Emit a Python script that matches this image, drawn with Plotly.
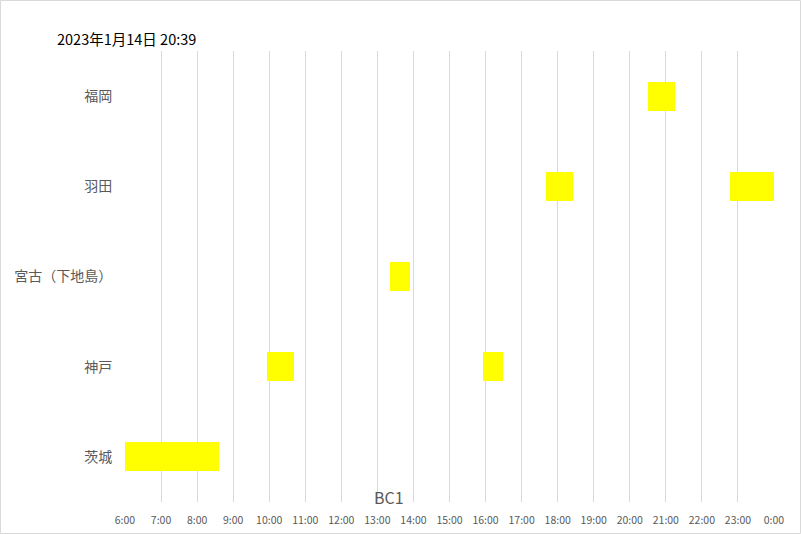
import plotly.graph_objects as go

# --- data ---
categories = ["茨城", "神戸", "宮古（下地島）", "羽田", "福岡"]
bar_cat = ["茨城", "神戸", "神戸", "宮古（下地島）", "羽田", "羽田", "福岡"]
bar_start = ["6:00", "9:56", "15:55", "13:21", "17:40", "22:46", "20:31"]
bar_end = ["8:36", "10:41", "16:29", "13:55", "18:25", "24:00", "21:16"]
tick_hours = list(range(6, 25))
tick_labels = [f"{h % 24}:00" for h in tick_hours]
chart_title = "2023年1月14日 20:39"
axis_title = "BC1"


def to_h(s):
    h, m = s.split(":")
    return int(h) + int(m) / 60.0


starts = [to_h(s) for s in bar_start]
durs = [to_h(e) - to_h(s) for s, e in zip(bar_start, bar_end)]

FONT = "Noto Sans CJK JP, Noto Sans, sans-serif"

fig = go.Figure()
fig.add_trace(go.Bar(
    y=bar_cat, x=durs, base=starts, orientation="h",
    width=0.32, marker=dict(color="#FFFF00", line=dict(width=0)),
    hoverinfo="skip", showlegend=False,
))

L, R, T, B = 125, 27, 51, 32
W, H = 801, 534
pw, ph = W - L - R, H - T - B

fig.update_layout(
    template="none",
    width=W, height=H,
    margin=dict(l=L, r=R, t=T, b=B, pad=0, autoexpand=False),
    paper_bgcolor="white", plot_bgcolor="white",
    font=dict(family=FONT, color="#595959"),
    bargap=0,
    xaxis=dict(
        range=[6, 24], tickvals=tick_hours, ticktext=tick_labels,
        showgrid=True, gridcolor="#d9d9d9", gridwidth=1,
        zeroline=False, showline=False, automargin=False,
        ticks="outside", ticklen=8, tickcolor="rgba(0,0,0,0)",
        tickfont=dict(size=10.5, color="#595959"),
        fixedrange=True,
    ),
    yaxis=dict(
        categoryorder="array", categoryarray=categories,
        range=[-0.5, 4.5], showgrid=False, zeroline=False, showline=False,
        automargin=False,
        ticks="outside", ticklen=9, tickcolor="rgba(0,0,0,0)",
        tickfont=dict(size=14, color="#595959"),
        fixedrange=True,
    ),
    annotations=[
        dict(text=chart_title, xref="paper", yref="paper",
             x=(55 - L) / pw, y=(H - B - 38) / ph, xanchor="left", yanchor="middle",
             showarrow=False, font=dict(size=14.5, color="#000000", family=FONT)),
        dict(text=axis_title, xref="paper", yref="paper",
             x=(389 - L) / pw, y=(H - B - 497) / ph, xanchor="center", yanchor="middle",
             showarrow=False, font=dict(size=16, color="#595959", family=FONT)),
    ],
    shapes=[
        dict(type="rect", xref="paper", yref="paper",
             x0=(0.5 - L) / pw, x1=(W - 0.5 - L) / pw,
             y0=(H - B - (H - 0.5)) / ph, y1=(H - B - 0.5) / ph,
             line=dict(color="#d9d9d9", width=1), fillcolor="rgba(0,0,0,0)", layer="below"),
    ],
)

fig.write_html(
    "out.html",
    config={"displayModeBar": False},
    post_script="document.body.style.margin='0';document.body.style.overflow='hidden';",
)
